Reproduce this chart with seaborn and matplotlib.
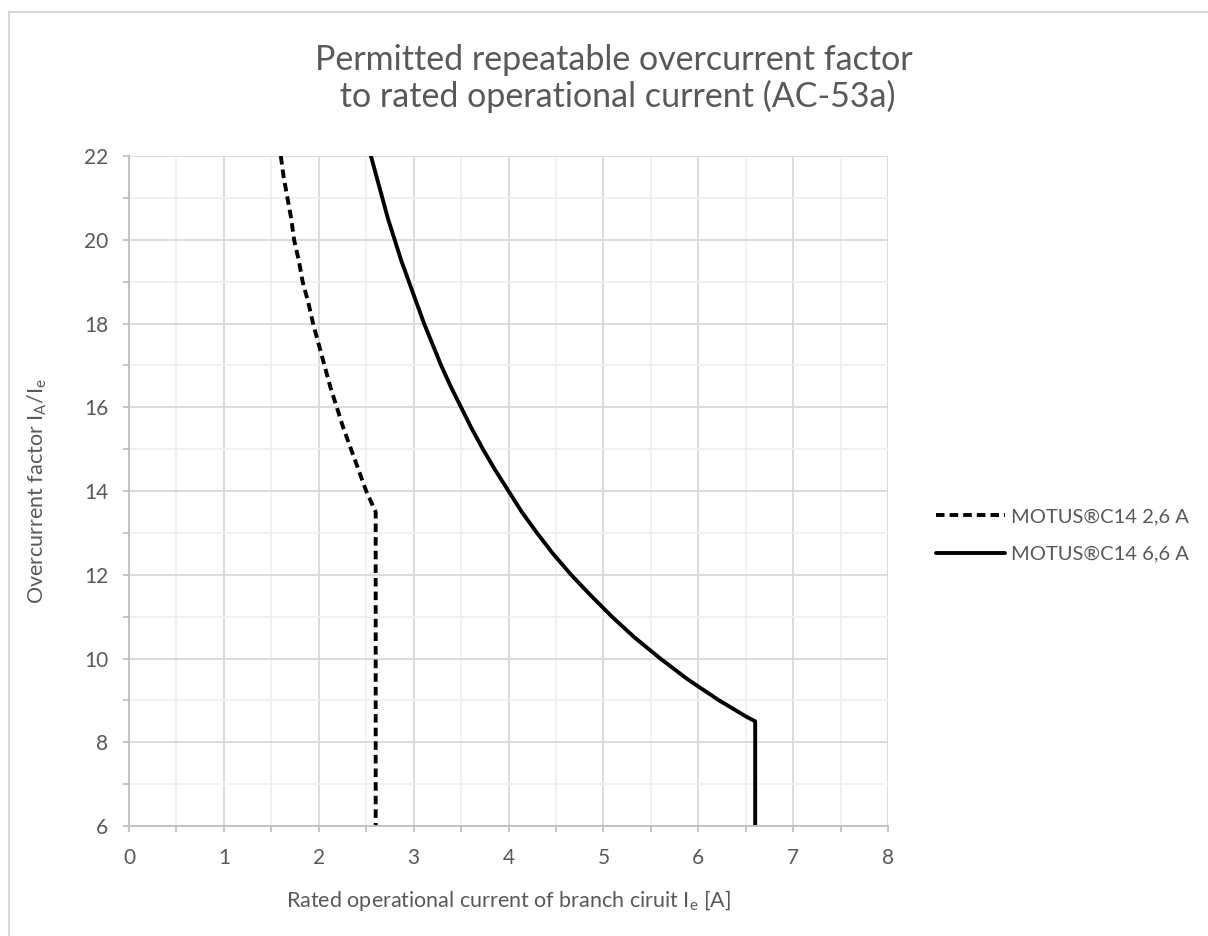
import matplotlib
matplotlib.use("Agg")
import matplotlib.pyplot as plt
import matplotlib.patches as mpatches
from matplotlib.ticker import MultipleLocator
import seaborn as sns
import pandas as pd

# Data
x_26 = [1.60, 1.63, 1.67, 1.71, 1.74, 1.79, 1.83, 1.89, 1.94, 2.00, 2.06, 2.12, 2.19,
        2.26, 2.34, 2.42, 2.50, 2.60, 2.60]
y_26 = [22.0, 21.5, 21.0, 20.5, 20.0, 19.5, 19.0, 18.5, 18.0, 17.5, 17.0, 16.5, 16.0,
        15.5, 15.0, 14.5, 14.0, 13.5, 6.0]

x_66 = [2.55, 2.61, 2.67, 2.73, 2.80, 2.87, 2.95, 3.03, 3.11, 3.20, 3.29, 3.39, 3.50,
        3.61, 3.73, 3.86, 4.00, 4.14, 4.30, 4.47, 4.66, 4.87, 5.09, 5.33, 5.60, 5.89,
        6.22, 6.50, 6.60, 6.60]
y_66 = [22.0, 21.5, 21.0, 20.5, 20.0, 19.5, 19.0, 18.5, 18.0, 17.5, 17.0, 16.5, 16.0,
        15.5, 15.0, 14.5, 14.0, 13.5, 13.0, 12.5, 12.0, 11.5, 11.0, 10.5, 10.0, 9.5,
        9.0, 8.62, 8.5, 6.0]

label_26 = "MOTUS®C14 2,6 A"
label_66 = "MOTUS®C14 6,6 A"
title_text = "Permitted repeatable overcurrent factor\n to rated operational current (AC-53a)"
xlabel_text = r"Rated operational current of branch ciruit I$_\mathregular{e}$ [A]"
ylabel_text = r"Overcurrent factor I$_\mathregular{A}$/I$_\mathregular{e}$"

sns.set_theme(style="white")
plt.rcParams["font.family"] = ["Lato", "DejaVu Sans"]
plt.rcParams["mathtext.fontset"] = "custom"
plt.rcParams["mathtext.rm"] = "Lato"

TXT = "#595959"

fig = plt.figure(figsize=(12.08, 9.36), dpi=100)
ax = fig.add_axes([0.1068, 0.1175, 0.6283, 0.7158])

df26 = pd.DataFrame({"x": x_26, "y": y_26})
df66 = pd.DataFrame({"x": x_66, "y": y_66})

sns.lineplot(data=df26, x="x", y="y", sort=False, estimator=None, ax=ax,
             color="black", linewidth=2.8, label=label_26)
sns.lineplot(data=df66, x="x", y="y", sort=False, estimator=None, ax=ax,
             color="black", linewidth=2.8, label=label_66)
ax.lines[0].set_dashes([2.2, 1.3])
ax.lines[0].set_dash_capstyle("butt")
ax.lines[1].set_solid_joinstyle("round")

ax.set_xlim(0, 8)
ax.set_ylim(6, 22)
ax.xaxis.set_major_locator(MultipleLocator(1))
ax.xaxis.set_minor_locator(MultipleLocator(0.5))
ax.yaxis.set_major_locator(MultipleLocator(2))
ax.yaxis.set_minor_locator(MultipleLocator(1))
ax.grid(which="major", color="#d9d9d9", linewidth=1.3)
ax.grid(which="minor", color="#f0f0f0", linewidth=1.3)
ax.set_axisbelow(True)

for s in ["top", "right"]:
    ax.spines[s].set_visible(False)
for s in ["left", "bottom"]:
    ax.spines[s].set_color("#bfbfbf")
    ax.spines[s].set_linewidth(1.3)

ax.tick_params(which="both", direction="out", length=4, width=1.3, color="#bfbfbf",
               labelcolor=TXT, labelsize=15, bottom=True, left=True)
ax.tick_params(axis="x", pad=12)
ax.tick_params(axis="y", pad=11)

ax.set_xlabel(xlabel_text, fontsize=15.5, color=TXT, labelpad=14)
ax.set_ylabel(ylabel_text, fontsize=15.5, color=TXT, labelpad=25)

ax.get_legend().remove()
handles, labels = ax.get_legend_handles_labels()
fig.legend(handles, labels, loc="center left", bbox_to_anchor=(0.775, 0.428),
           frameon=False, fontsize=14.5, labelcolor=TXT, handlelength=3.4,
           handletextpad=0.3, labelspacing=1.0, borderpad=0, borderaxespad=0)

fig.text(0.508, 0.916, title_text, ha="center", va="center", fontsize=24.5,
         color=TXT, linespacing=1.15)

fig.patches.append(mpatches.Rectangle((9 / 1208, -0.1), 1.2, 1.1 - 12 / 936,
                                      transform=fig.transFigure, fill=False,
                                      edgecolor="#d9d9d9", linewidth=1.5))

fig.savefig("out.png", dpi=100)
